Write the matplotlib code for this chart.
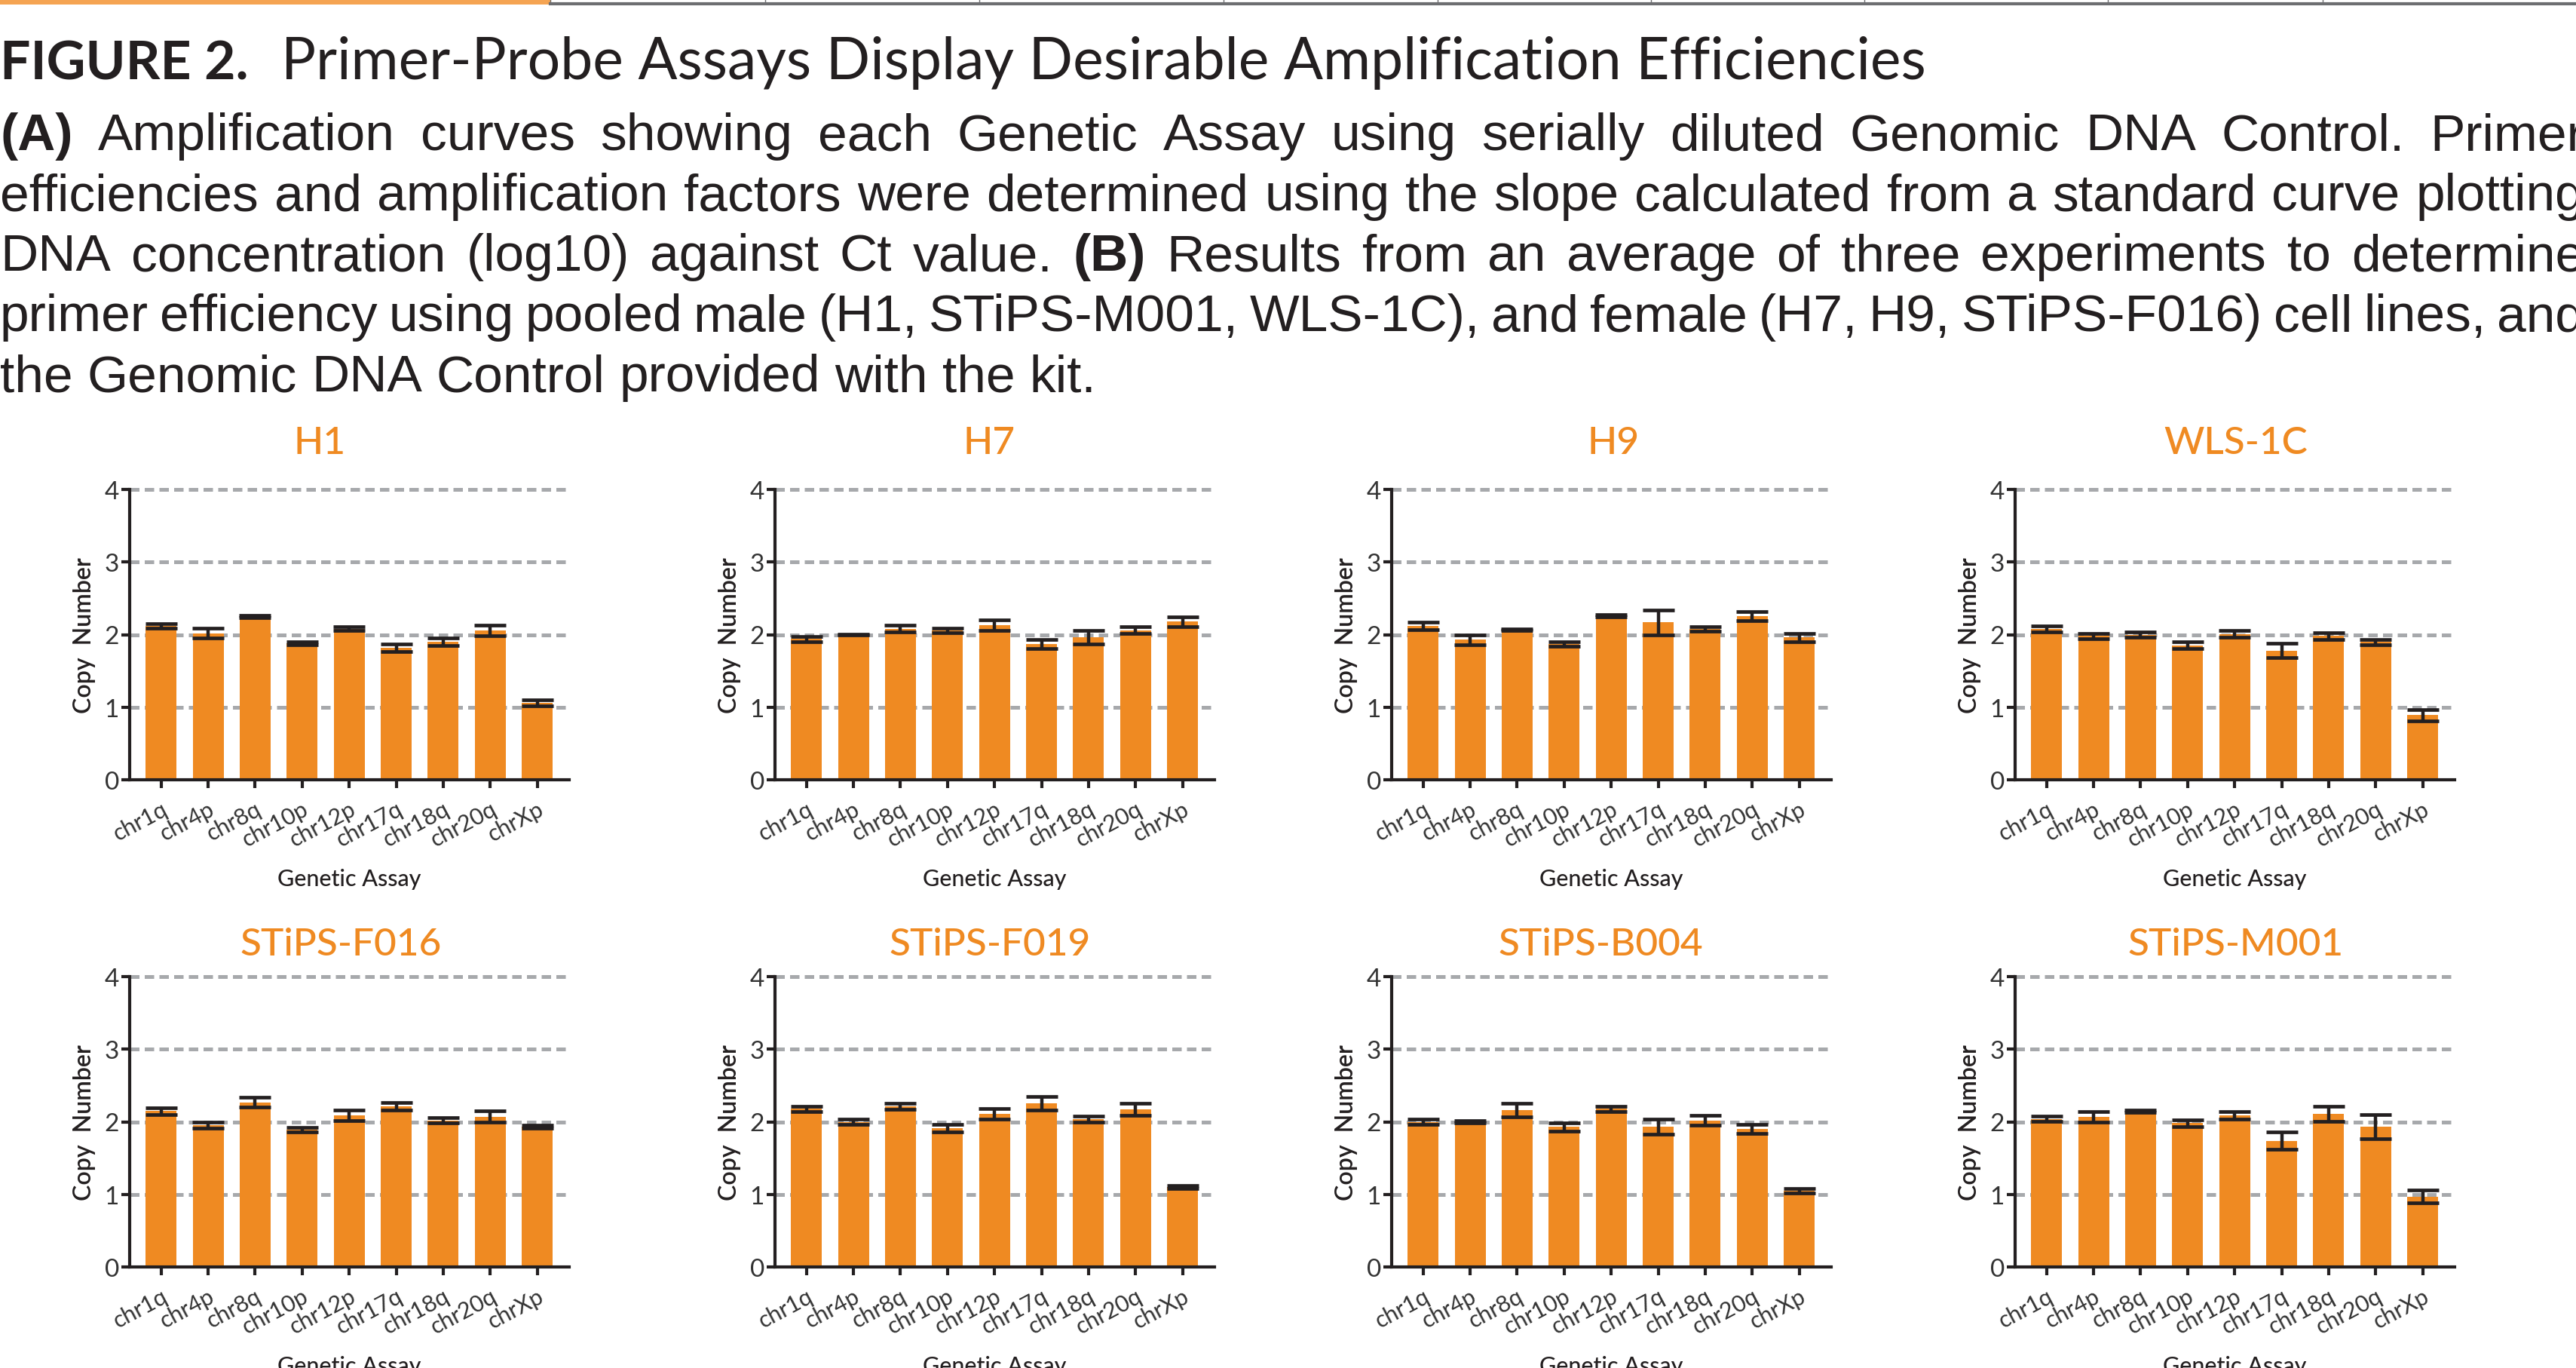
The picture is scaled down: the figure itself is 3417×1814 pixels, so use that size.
import matplotlib
matplotlib.use("Agg")
import matplotlib.pyplot as plt
from matplotlib.patches import Rectangle
from matplotlib.lines import Line2D
import numpy as np

# assay categories shared by every panel
assays = ["chr1q", "chr4p", "chr8q", "chr10p", "chr12p", "chr17q", "chr18q", "chr20q", "chrXp"]

# copy number (mean) and error, one pair per cell line
h1_mean = [2.12, 2.02, 2.25, 1.88, 2.08, 1.82, 1.90, 2.06, 1.06]
h1_err = [0.03, 0.065, 0.015, 0.02, 0.025, 0.05, 0.055, 0.075, 0.04]
h7_mean = [1.94, 2.00, 2.08, 2.06, 2.13, 1.87, 1.96, 2.06, 2.18]
h7_err = [0.037, 0.01, 0.045, 0.03, 0.07, 0.06, 0.093, 0.045, 0.066]
h9_mean = [2.12, 1.93, 2.07, 1.87, 2.26, 2.17, 2.08, 2.25, 1.96]
h9_err = [0.054, 0.066, 0.012, 0.03, 0.015, 0.17, 0.03, 0.062, 0.06]
wls_mean = [2.08, 1.98, 2.00, 1.85, 2.01, 1.78, 1.98, 1.90, 0.89]
wls_err = [0.043, 0.033, 0.037, 0.047, 0.05, 0.10, 0.05, 0.037, 0.08]
f016_mean = [2.15, 1.95, 2.27, 1.89, 2.09, 2.21, 2.02, 2.07, 1.93]
f016_err = [0.047, 0.04, 0.067, 0.035, 0.07, 0.05, 0.04, 0.08, 0.02]
f019_mean = [2.18, 2.00, 2.21, 1.91, 2.11, 2.25, 2.04, 2.17, 1.10]
f019_err = [0.037, 0.035, 0.04, 0.055, 0.07, 0.093, 0.04, 0.08, 0.02]
b004_mean = [2.00, 2.00, 2.16, 1.93, 2.18, 1.93, 2.02, 1.90, 1.05]
b004_err = [0.04, 0.018, 0.097, 0.057, 0.035, 0.105, 0.07, 0.065, 0.028]
m001_mean = [2.04, 2.07, 2.15, 1.98, 2.09, 1.74, 2.11, 1.93, 0.97]
m001_err = [0.037, 0.07, 0.016, 0.045, 0.053, 0.118, 0.10, 0.164, 0.09]

cell_lines = ["H1", "H7", "H9", "WLS-1C", "STiPS-F016", "STiPS-F019", "STiPS-B004", "STiPS-M001"]
means = [h1_mean, h7_mean, h9_mean, wls_mean, f016_mean, f019_mean, b004_mean, m001_mean]
errors = [h1_err, h7_err, h9_err, wls_err, f016_err, f019_err, b004_err, m001_err]

title = "Primer-Probe Assays Display Desirable Amplification Efficiencies"
caption = [
    "(A) Amplification curves showing each Genetic Assay using serially diluted Genomic DNA Control. Primer",
    "efficiencies and amplification factors were determined using the slope calculated from a standard curve plotting",
    "DNA concentration (log10) against Ct value. (B) Results from an average of three experiments to determine",
    "primer efficiency using pooled male (H1, STiPS-M001, WLS-1C), and female (H7, H9, STiPS-F016) cell lines, and",
    "the Genomic DNA Control provided with the kit.",
]

# colours
orange = "#ef8a22"
dark = "#231f20"
grid_gray = "#a7a9ac"

W, H = 3417, 1815
plt.rcParams["font.family"] = ["Lato", "DejaVu Sans"]
fig = plt.figure(figsize=(W / 100, H / 100), dpi=100)
renderer = fig.canvas.get_renderer()

# page decoration at the very top (end of the previous table)
fig.add_artist(Rectangle((0, 1 - 7 / H), 730 / W, 7 / H, transform=fig.transFigure,
                         color="#f5a452", lw=0))
fig.add_artist(Line2D([730 / W, 1], [1 - 6 / H, 1 - 6 / H], transform=fig.transFigure,
                      color="#6d6e71", lw=3))
for xv in [730, 1015, 1299, 1623, 1907, 2190, 2473, 2796, 3081]:
    fig.add_artist(Line2D([xv / W, xv / W], [1, 1 - 6 / H], transform=fig.transFigure,
                          color="#6d6e71", lw=1))

# figure heading, fitted to the measured widths
t1 = fig.text(0, 1 - 105 / H, "FIGURE 2.", fontsize=50, fontweight="bold", color=dark, va="baseline")
t2 = fig.text(373 / W, 1 - 105 / H, title, fontsize=50, color=dark, va="baseline")
t1.set_fontsize(50 * 330 / t1.get_window_extent(renderer).width)
t2.set_fontsize(50 * 2181 / t2.get_window_extent(renderer).width)

# caption, justified like the printed page
body_font = ["Liberation Sans", "DejaVu Sans"]
baselines = [199, 279, 359, 439, 519]
for i, (line, yb) in enumerate(zip(caption, baselines)):
    words = line.split(" ")
    arts = []
    for w in words:
        weight = "bold" if w in ("(A)", "(B)") else "normal"
        arts.append(fig.text(0, 1 - yb / H, w, fontsize=50, family=body_font,
                             fontweight=weight, color=dark, va="baseline"))
    widths = [a.get_window_extent(renderer).width for a in arts]
    if i < len(caption) - 1:
        gap = (3428 - sum(widths)) / (len(arts) - 1)
    else:
        gap = 19
    x = 0
    for a, wd in zip(arts, widths):
        a.set_x(x / W)
        x += wd + gap

# panel geometry (pixels)
lefts = [172, 1028, 1846, 2673]
tops = [650, 1296]
axw, axh = 583, 385
title_x = [[424, 1312, 2140, 2966], [452, 1313, 2123, 2966]]
title_base = [602, 1267]

x = np.arange(len(assays))
for k, (name, m, e) in enumerate(zip(cell_lines, means, errors)):
    row, col = divmod(k, 4)
    ax = fig.add_axes([lefts[col] / W, 1 - (tops[row] + axh) / H, axw / W, axh / H])
    for yv in [1, 2, 3, 4]:
        ax.axhline(yv, color=grid_gray, lw=3.6, dashes=(2.5, 1.4), zorder=1, clip_on=False)
    ax.bar(x, m, width=0.66, color=orange, zorder=2)
    ax.errorbar(x, m, yerr=e, fmt="none", ecolor=dark, elinewidth=3.2, capsize=15,
                capthick=3.4, zorder=3)
    ax.set_xlim(-0.67, 8.68)
    ax.set_ylim(0, 4)
    ax.set_yticks([0, 1, 2, 3, 4])
    ax.set_xticks(x)
    ax.set_xticklabels(assays, rotation=28, ha="right", rotation_mode="anchor",
                       fontsize=22, color="#333333")
    ax.tick_params(axis="y", length=8, width=3, labelsize=24, pad=2, color=dark, labelcolor="#333333")
    ax.tick_params(axis="x", length=8, width=3, pad=9, color=dark)
    for s in ["top", "right"]:
        ax.spines[s].set_visible(False)
    for s in ["left", "bottom"]:
        ax.spines[s].set_linewidth(3)
        ax.spines[s].set_color(dark)
        ax.spines[s].set_zorder(4)
    ax.set_ylabel("Copy  Number", fontsize=23, fontweight="semibold", color=dark)
    ax.yaxis.set_label_coords(-0.077, 0.5)
    ax.set_xlabel("Genetic Assay", fontsize=22, fontweight="medium", color=dark)
    ax.xaxis.set_label_coords(0.5, -0.304)
    fig.text(title_x[row][col] / W, 1 - title_base[row] / H, name, fontsize=37,
             fontweight="medium", color=orange, ha="center", va="baseline")

fig.savefig("out.png", dpi=100)
